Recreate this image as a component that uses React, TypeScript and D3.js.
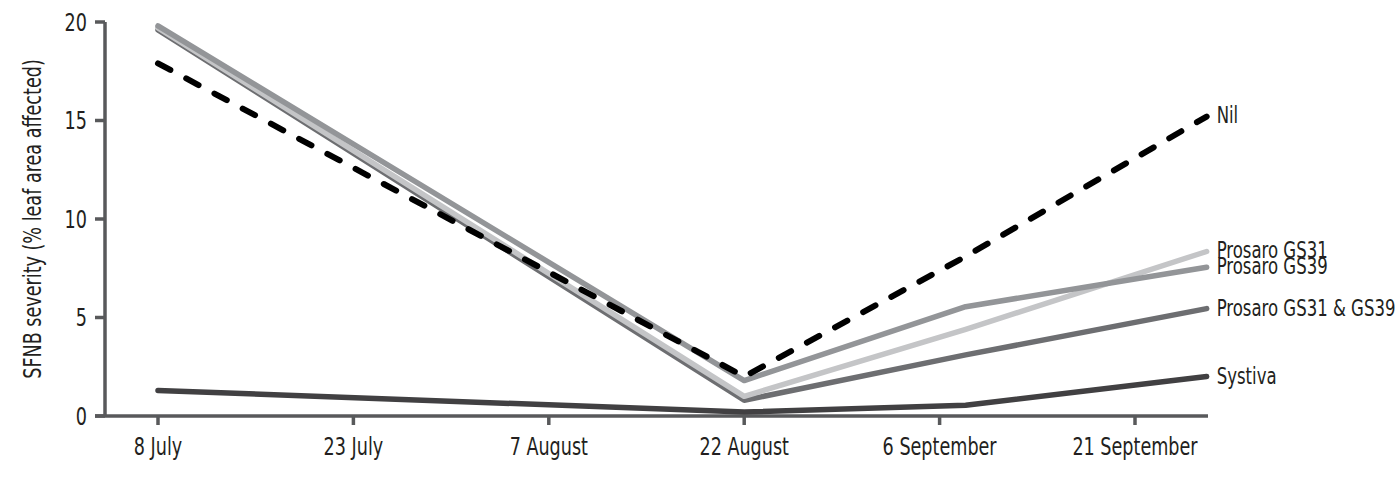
import { useEffect, useRef } from 'react';
import * as d3 from 'd3';

// sampling dates (last one sits past the 21 Sep tick)
const dates = [
    new Date(2014, 6, 8),
    new Date(2014, 7, 22),
    new Date(2014, 8, 8),
    new Date(2014, 8, 26, 12),
];

const tickDates = [
    new Date(2014, 6, 8),
    new Date(2014, 6, 23),
    new Date(2014, 7, 7),
    new Date(2014, 7, 22),
    new Date(2014, 8, 6),
    new Date(2014, 8, 21),
];
const tickLabels = ['8 July', '23 July', '7 August', '22 August', '6 September', '21 September'];

const yTicks = [0, 5, 10, 15, 20];

// series values, % leaf area affected
const systiva = [1.3, 0.2, 0.55, 2.0];
const prosaroBoth = [19.6, 0.8, 3.1, 5.45];
const prosaroGS31 = [19.7, 1.0, 4.4, 8.35];
const prosaroGS39 = [19.8, 1.8, 5.55, 7.55];
const nil = [17.9, 2.0, 8.1, 15.2];

const seriesNames = ['Systiva', 'Prosaro GS31 & GS39', 'Prosaro GS31', 'Prosaro GS39', 'Nil'];
const seriesValues = [systiva, prosaroBoth, prosaroGS31, prosaroGS39, nil];
const seriesColors = ['#414042', '#6d6e71', '#c4c5c7', '#939598', '#000000'];

export default function App() {
    const ref = useRef<SVGSVGElement>(null);

    useEffect(() => {
        if (!ref.current) return;
        const svg = d3.select(ref.current);
        svg.selectAll('*').remove();

        // no condensed face installed, so squeeze DejaVu Condensed horizontally
        const font = '"DejaVu Sans Condensed", "DejaVu Sans", sans-serif';
        const axisColor = '#58595b';
        const textColor = '#231f20';
        const squeeze = 0.815;

        const label = (x: number, y: number, txt: string, anchor: string, size: number, sx: number, rot = 0) =>
            svg.append('text')
                .attr('transform', `translate(${x},${y}) rotate(${rot}) scale(${sx},1)`)
                .attr('text-anchor', anchor)
                .attr('font-family', font).attr('font-size', size)
                .attr('fill', textColor)
                .text(txt);

        const x = d3.scaleTime()
            .domain([tickDates[0], tickDates[tickDates.length - 1]])
            .range([158, 1135]);
        const y = d3.scaleLinear().domain([0, 20]).range([416, 22]);

        const axisX0 = 95;
        const axisX1 = 1208;
        const yAxisX = 105;

        // y axis
        svg.append('line')
            .attr('x1', yAxisX).attr('x2', yAxisX)
            .attr('y1', y(20)).attr('y2', y(0))
            .attr('stroke', axisColor).attr('stroke-width', 3.5);
        yTicks.forEach(t => {
            svg.append('line')
                .attr('x1', axisX0).attr('x2', yAxisX)
                .attr('y1', y(t)).attr('y2', y(t))
                .attr('stroke', axisColor).attr('stroke-width', 3.5);
            label(87, y(t), String(t), 'end', 24, squeeze).attr('dy', '0.36em');
        });

        // x axis
        svg.append('line')
            .attr('x1', axisX0).attr('x2', axisX1)
            .attr('y1', y(0)).attr('y2', y(0))
            .attr('stroke', axisColor).attr('stroke-width', 3.5);
        tickDates.forEach((d, i) => {
            svg.append('line')
                .attr('x1', x(d)).attr('x2', x(d))
                .attr('y1', y(0)).attr('y2', y(0) + 9)
                .attr('stroke', axisColor).attr('stroke-width', 3.5);
            label(x(d), 455, tickLabels[i], 'middle', 24, squeeze);
        });

        // y title
        label(41, (y(0) + y(20)) / 2, 'SFNB severity (% leaf area affected)', 'middle', 24, squeeze, -90);

        const line = d3.line<number>()
            .x((_, i) => x(dates[i]))
            .y(v => y(v));

        seriesValues.forEach((vals, s) => {
            const isNil = seriesNames[s] === 'Nil';
            svg.append('path')
                .attr('d', line(vals) as string)
                .attr('fill', 'none')
                .attr('stroke', seriesColors[s])
                .attr('stroke-width', isNil ? 6 : 5.5)
                .attr('stroke-linecap', 'round')
                .attr('stroke-linejoin', 'round')
                .attr('stroke-dasharray', isNil ? '14 18' : null);

            const last = vals[vals.length - 1];
            label(x(dates[dates.length - 1]) + 10, y(last), seriesNames[s], 'start', 23, 0.8)
                .attr('dy', '0.3em');
        });
    }, []);

    return (
        <svg
            ref={ref}
            width={1396}
            height={478}
            style={{ position: 'absolute', left: 0, top: 0, display: 'block' }}
        />
    );
}
